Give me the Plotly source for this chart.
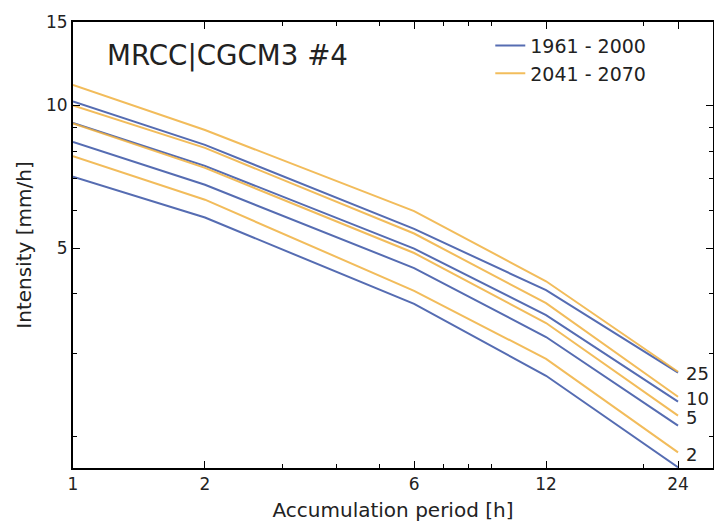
import numpy as np
import plotly.graph_objects as go

# Accumulation periods [h]
durations = [1, 2, 6, 12, 24]

# Return-period labels (years)
return_periods = ["2", "5", "10", "25"]

# 1961 - 2000 intensities [mm/h]
hist_2 = [7.07, 5.80, 3.81, 2.687, 1.722]
hist_5 = [8.375, 6.80, 4.536, 3.244, 2.109]
hist_10 = [9.18, 7.455, 4.985, 3.609, 2.369]
hist_25 = [10.195, 8.254, 5.487, 4.073, 2.727]

# 2041 - 2070 intensities [mm/h]
fut_2 = [7.815, 6.325, 4.061, 2.917, 1.851]
fut_5 = [9.157, 7.383, 4.880, 3.472, 2.214]
fut_10 = [10.0, 8.135, 5.366, 3.824, 2.427]
fut_25 = [11.048, 8.874, 5.984, 4.254, 2.740]

x_ticks = [1, 2, 6, 12, 24]
x_minor = [3, 4, 5, 7, 8, 9, 20]
y_ticks = [5, 10, 15]
y_minor = [2, 3, 4, 6, 7, 8, 9]

title_text = "MRCC|CGCM3 #4"
hist_name = "1961 - 2000"
fut_name = "2041 - 2070"

BLUE = "#3853a5"
ORANGE = "#f0b13f"
FONT = "DejaVu Sans"

hist_series = [hist_2, hist_5, hist_10, hist_25]
fut_series = [fut_2, fut_5, fut_10, fut_25]

fig = go.Figure()

for i, ys in enumerate(hist_series):
    fig.add_trace(go.Scatter(
        x=durations, y=ys, mode="lines",
        line=dict(color=BLUE, width=2), opacity=0.85,
        name=hist_name, legendgroup="hist", showlegend=(i == 0),
    ))
for i, ys in enumerate(fut_series):
    fig.add_trace(go.Scatter(
        x=durations, y=ys, mode="lines",
        line=dict(color=ORANGE, width=2), opacity=0.85,
        name=fut_name, legendgroup="fut", showlegend=(i == 0),
    ))

# return period labels at the right end
for rp, ys in zip(return_periods, fut_series):
    fig.add_annotation(
        x=np.log10(durations[-1]), y=np.log10(ys[-1]),
        xref="x", yref="y", text=rp, showarrow=False,
        xanchor="left", yanchor="middle", xshift=6, yshift=-2,
        font=dict(family=FONT, size=18, color="#222222"),
    )

fig.add_annotation(
    x=0.05, y=0.924, xref="paper", yref="paper",
    text=title_text, showarrow=False, xanchor="left", yanchor="middle",
    font=dict(family=FONT, size=27.7, color="#222222"),
)

axis_common = dict(
    showline=True, linecolor="black", linewidth=2, mirror="ticks",
    ticks="inside", ticklen=7, tickwidth=1.2, tickcolor="black",
    showgrid=False, zeroline=False,
    tickfont=dict(family=FONT, size=17, color="#222222"),
)

fig.update_xaxes(
    type="log", range=[0, 1.46],
    tickmode="array", tickvals=x_ticks, ticktext=[str(v) for v in x_ticks],
    minor=dict(tickmode="array", tickvals=x_minor, ticks="inside",
               ticklen=4, tickwidth=1, tickcolor="black"),
    title=dict(text="Accumulation period [h]", standoff=10,
               font=dict(family=FONT, size=20, color="#222222")),
    **axis_common,
)
fig.update_yaxes(
    type="log", range=[np.log10(1.716), np.log10(15.004)],
    tickmode="array", tickvals=y_ticks, ticktext=[str(v) for v in y_ticks],
    minor=dict(tickmode="array", tickvals=y_minor, ticks="inside",
               ticklen=4, tickwidth=1, tickcolor="black"),
    title=dict(text="Intensity [mm/h]", standoff=9,
               font=dict(family=FONT, size=20, color="#222222")),
    **axis_common,
)

fig.update_layout(
    width=714, height=524,
    margin=dict(l=73, r=1, t=22, b=56, autoexpand=False),
    paper_bgcolor="white", plot_bgcolor="white",
    font=dict(family=FONT, color="#222222"),
    legend=dict(x=0.652, y=0.9895, xanchor="left", yanchor="top",
                bgcolor="rgba(255,255,255,0)", tracegroupgap=0,
                font=dict(family=FONT, size=19, color="#222222")),
)

# remove the default page margin so the figure fills the window exactly
fig.write_html(
    "out.html",
    config={"displayModeBar": False},
    post_script="document.body.style.margin='0';document.body.style.overflow='hidden';",
)
